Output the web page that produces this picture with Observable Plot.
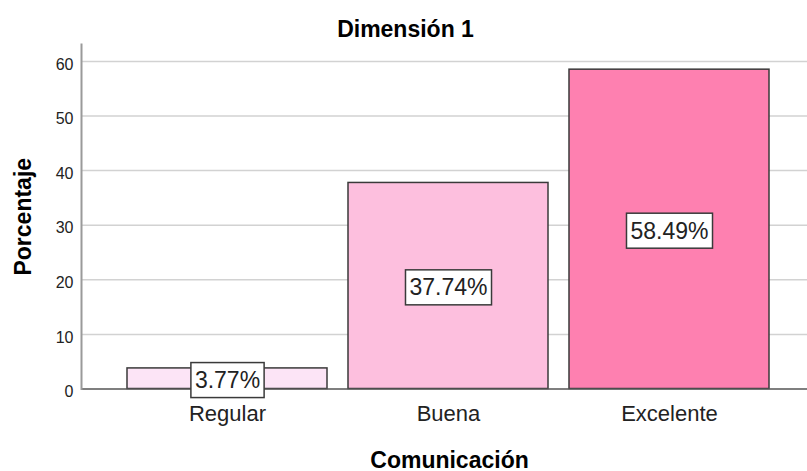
<!DOCTYPE html>
<html>
<head>
<meta charset="utf-8">
<script src="https://cdn.jsdelivr.net/npm/d3@7"></script>
<script src="https://cdn.jsdelivr.net/npm/@observablehq/plot@0.6"></script>
<style>
  html, body { margin: 0; padding: 0; background: #fff; }
  svg { display: block; }
</style>
</head>
<body>
<script>
// Dimensión 1 — distribution of "Comunicación" ratings (percent)
const categories = ["Regular", "Buena", "Excelente"];
const percentages = [3.77, 37.74, 58.49];
const barColors = ["#fce4f6", "#fdbfde", "#fe80b0"];
const yTicks = [0, 10, 20, 30, 40, 50, 60];
const title = "Dimensión 1";
const xTitle = "Comunicación";
const yTitle = "Porcentaje";

const rows = categories.map((c, i) => ({category: c, pct: percentages[i]}));

const font = "Arial, 'Liberation Sans', sans-serif";

const chart = Plot.plot({
  width: 807,
  height: 471,
  marginLeft: 81,
  marginRight: 0,
  marginTop: 44,
  marginBottom: 82.5,
  style: {fontFamily: font, fontSize: "16px", color: "#222", background: "#fff"},
  x: {domain: categories, range: [81, 816], paddingInner: 0.095, paddingOuter: 0.21, axis: null},
  y: {domain: [0, 63.1], axis: null},
  color: {domain: categories, range: barColors},
  marks: [
    Plot.gridY(yTicks.slice(1), {stroke: "#d2d2d2", strokeOpacity: 1, strokeWidth: 1.5}),
    Plot.axisY(yTicks, {tickSize: 0, tickPadding: 8, fontSize: 16, dy: 3, fill: "#222", label: null}),
    Plot.axisX({tickSize: 0, tickPadding: 16, fontSize: 22, fill: "#222", label: null}),
    Plot.barY(rows, {x: "category", y: "pct", fill: "category", stroke: "#3a3a3a", strokeWidth: 1.5}),
    Plot.ruleY([0], {stroke: "#555", strokeWidth: 1.5}),
    Plot.frame({anchor: "left", stroke: "#9a9a9a", strokeWidth: 2}),
    Plot.text(rows, {
      x: "category",
      y: d => d.pct / 2,
      text: d => d.pct.toFixed(2) + "%",
      fontSize: 23,
      dy: 2,
      fill: "#222"
    }),
    Plot.text([title], {frameAnchor: "top", dx: -39, dy: -8, lineAnchor: "bottom", fontSize: 23, fontWeight: "bold", fill: "#000"}),
    Plot.text([xTitle], {frameAnchor: "bottom", dx: 5, dy: 78.5, lineAnchor: "bottom", fontSize: 23, fontWeight: "bold", fill: "#000"}),
    Plot.text([yTitle], {frameAnchor: "left", textAnchor: "middle", dx: -58, rotate: -90, lineAnchor: "middle", fontSize: 23, fontWeight: "bold", fill: "#000"})
  ]
});

document.body.append(chart);

// White boxes with a dark outline behind each percentage label
chart.querySelectorAll("text").forEach(t => {
  if (!/%$/.test(t.textContent)) return;
  const b = t.getBBox();
  const ctm = t.getAttribute("transform");
  const r = document.createElementNS("http://www.w3.org/2000/svg", "rect");
  r.setAttribute("x", b.x - 4);
  r.setAttribute("y", b.y - 4.5);
  r.setAttribute("width", b.width + 8);
  r.setAttribute("height", b.height + 9);
  r.setAttribute("fill", "#fff");
  r.setAttribute("stroke", "#3a3a3a");
  r.setAttribute("stroke-width", "1.5");
  if (ctm) r.setAttribute("transform", ctm);
  t.parentNode.insertBefore(r, t);
});
</script>
</body>
</html>
